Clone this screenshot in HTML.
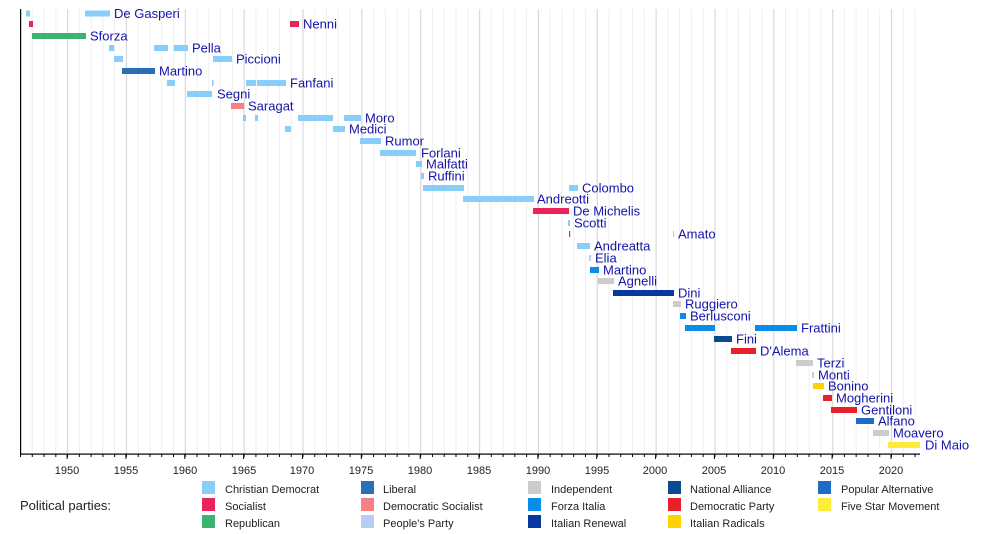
<!DOCTYPE html>
<html><head><meta charset="utf-8"><style>
body{margin:0;background:#fff}
svg{display:block;font-family:"Liberation Sans",sans-serif}
.l{fill:#1414aa;font-size:13px;dominant-baseline:central}
.t{font-size:11px;fill:#222;text-anchor:middle}
.g{font-size:11px;fill:#222}
</style></head><body>
<svg width="1000" height="534" viewBox="0 0 1000 534">
<defs>
<pattern id="mn" x="20" y="0" width="11.77" height="10" patternUnits="userSpaceOnUse"><rect x="0" y="0" width="1" height="10" fill="#eeeeee"/></pattern>
<pattern id="mj" x="-0.5" y="0" width="58.85" height="10" patternUnits="userSpaceOnUse"><rect x="67.6" y="0" width="1" height="10" fill="#d6d6d6"/><rect x="8.75" y="0" width="1" height="10" fill="#d6d6d6"/></pattern>
<pattern id="tk" x="20" y="0" width="11.77" height="10" patternUnits="userSpaceOnUse"><rect x="0" y="0" width="1" height="10" fill="#000"/></pattern>
</defs>
<rect x="20" y="9" width="900" height="445" fill="url(#mn)"/>
<rect x="20" y="9" width="900" height="445" fill="url(#mj)"/>
<rect x="20" y="454" width="901" height="3" fill="url(#tk)"/>
<g fill="#000">
<rect x="66.6" y="454" width="1" height="5"/><rect x="125.4" y="454" width="1" height="5"/><rect x="184.3" y="454" width="1" height="5"/><rect x="243.1" y="454" width="1" height="5"/><rect x="302" y="454" width="1" height="5"/><rect x="360.8" y="454" width="1" height="5"/><rect x="419.7" y="454" width="1" height="5"/><rect x="478.5" y="454" width="1" height="5"/><rect x="537.4" y="454" width="1" height="5"/><rect x="596.2" y="454" width="1" height="5"/><rect x="655.1" y="454" width="1" height="5"/><rect x="713.9" y="454" width="1" height="5"/><rect x="772.8" y="454" width="1" height="5"/><rect x="831.6" y="454" width="1" height="5"/><rect x="890.5" y="454" width="1" height="5"/>
</g>
<rect x="20" y="9" width="1.2" height="446" fill="#000"/>
<rect x="20" y="453.5" width="900" height="1.2" fill="#000"/>
<g class="t">
<text x="67" y="474">1950</text><text x="126" y="474">1955</text><text x="185" y="474">1960</text><text x="244" y="474">1965</text><text x="302" y="474">1970</text><text x="361" y="474">1975</text><text x="420" y="474">1980</text><text x="479" y="474">1985</text><text x="538" y="474">1990</text><text x="597" y="474">1995</text><text x="655" y="474">2000</text><text x="714" y="474">2005</text><text x="773" y="474">2010</text><text x="832" y="474">2015</text><text x="891" y="474">2020</text>
</g>
<g>
<rect x="26" y="10.5" width="4" height="6" fill="#87CEFA"/><rect x="85" y="10.5" width="25" height="6" fill="#87CEFA"/>
<rect x="29" y="21" width="4" height="6" fill="#E8245A"/><rect x="290" y="21" width="9" height="6" fill="#E8245A"/>
<rect x="32" y="33" width="54" height="6" fill="#3CB371"/>
<rect x="109" y="45" width="5" height="6" fill="#87CEFA"/><rect x="154" y="45" width="14" height="6" fill="#87CEFA"/><rect x="174" y="45" width="14" height="6" fill="#87CEFA"/>
<rect x="114" y="56" width="9" height="6" fill="#87CEFA"/><rect x="213" y="56" width="19" height="6" fill="#87CEFA"/>
<rect x="122" y="68" width="33" height="6" fill="#2A6EB5"/>
<rect x="167" y="80" width="8" height="6" fill="#87CEFA"/><rect x="212" y="80" width="1.5" height="6" fill="#87CEFA"/><rect x="246" y="80" width="10" height="6" fill="#87CEFA"/><rect x="257" y="80" width="29" height="6" fill="#87CEFA"/>
<rect x="187" y="91" width="25" height="6" fill="#87CEFA"/>
<rect x="231" y="103" width="13" height="6" fill="#F88080"/>
<rect x="243" y="115" width="3" height="6" fill="#87CEFA"/><rect x="255" y="115" width="3" height="6" fill="#87CEFA"/><rect x="298" y="115" width="35" height="6" fill="#87CEFA"/><rect x="344" y="115" width="17" height="6" fill="#87CEFA"/>
<rect x="285" y="126" width="6" height="6" fill="#87CEFA"/><rect x="333" y="126" width="12" height="6" fill="#87CEFA"/>
<rect x="360" y="138" width="21" height="6" fill="#87CEFA"/>
<rect x="380" y="150" width="36" height="6" fill="#87CEFA"/>
<rect x="416" y="161" width="6" height="6" fill="#87CEFA"/>
<rect x="421" y="173" width="3" height="6" fill="#87CEFA"/>
<rect x="423" y="185" width="41" height="6" fill="#87CEFA"/><rect x="569" y="185" width="9" height="6" fill="#87CEFA"/>
<rect x="463" y="196" width="71" height="6" fill="#87CEFA"/>
<rect x="533" y="208" width="36" height="6" fill="#E8245A"/>
<rect x="568" y="220" width="2" height="6" fill="#87CEFA"/>
<rect x="569" y="231" width="1.2" height="6" fill="#E8245A"/><rect x="673" y="231" width="1.2" height="6" fill="#ccc"/>
<rect x="577" y="243" width="13" height="6" fill="#87CEFA"/>
<rect x="589" y="255" width="2" height="6" fill="#B9CCF5"/>
<rect x="590" y="267" width="9" height="6" fill="#0A8CE8"/>
<rect x="598" y="278" width="16" height="6" fill="#CCCCCC"/>
<rect x="613" y="290" width="61" height="6" fill="#0638A0"/>
<rect x="673" y="301" width="8" height="6" fill="#CCCCCC"/>
<rect x="680" y="313" width="6" height="6" fill="#0A8CE8"/>
<rect x="685" y="325" width="30" height="6" fill="#0A8CE8"/><rect x="755" y="325" width="42" height="6" fill="#0A8CE8"/>
<rect x="714" y="336" width="18" height="6" fill="#0A4A93"/>
<rect x="731" y="348" width="25" height="6" fill="#E8202A"/>
<rect x="796" y="360" width="17" height="6" fill="#CCCCCC"/>
<rect x="812" y="372" width="2" height="6" fill="#CCCCCC"/>
<rect x="813" y="383" width="11" height="6" fill="#FFD300"/>
<rect x="823" y="395" width="9" height="6" fill="#E8202A"/>
<rect x="831" y="407" width="26" height="6" fill="#E8202A"/>
<rect x="856" y="418" width="18" height="6" fill="#1E6CC8"/>
<rect x="873" y="430" width="16" height="6" fill="#CCCCCC"/>
<rect x="888" y="442" width="32" height="6" fill="#FFEB3B"/>
</g>
<g class="l">
<text x="114" y="13.5">De Gasperi</text>
<text x="303" y="24">Nenni</text>
<text x="90" y="36">Sforza</text>
<text x="192" y="48">Pella</text>
<text x="236" y="59">Piccioni</text>
<text x="159" y="71">Martino</text>
<text x="290" y="83">Fanfani</text>
<text x="217" y="94">Segni</text>
<text x="248" y="106">Saragat</text>
<text x="365" y="118">Moro</text>
<text x="349" y="129">Medici</text>
<text x="385" y="141">Rumor</text>
<text x="421" y="153">Forlani</text>
<text x="426" y="164">Malfatti</text>
<text x="428" y="176">Ruffini</text>
<text x="582" y="188">Colombo</text>
<text x="537" y="199">Andreotti</text>
<text x="573" y="211">De Michelis</text>
<text x="574" y="223">Scotti</text>
<text x="678" y="234">Amato</text>
<text x="594" y="246">Andreatta</text>
<text x="595" y="258">Elia</text>
<text x="603" y="270">Martino</text>
<text x="618" y="281">Agnelli</text>
<text x="678" y="293">Dini</text>
<text x="685" y="304">Ruggiero</text>
<text x="690" y="316">Berlusconi</text>
<text x="801" y="328">Frattini</text>
<text x="736" y="339">Fini</text>
<text x="760" y="351">D'Alema</text>
<text x="817" y="363">Terzi</text>
<text x="818" y="375">Monti</text>
<text x="828" y="386">Bonino</text>
<text x="836" y="398">Mogherini</text>
<text x="861" y="410">Gentiloni</text>
<text x="878" y="421">Alfano</text>
<text x="893" y="433">Moavero</text>
<text x="925" y="445">Di Maio</text>
</g>
<text x="20" y="510" style="font-size:13px;fill:#222">Political parties:</text>
<g>
<rect x="202" y="481" width="13" height="13" fill="#87CEFA"/><rect x="202" y="498" width="13" height="13" fill="#E8245A"/><rect x="202" y="515" width="13" height="13" fill="#3CB371"/>
<rect x="361" y="481" width="13" height="13" fill="#2A6EB5"/><rect x="361" y="498" width="13" height="13" fill="#F88080"/><rect x="361" y="515" width="13" height="13" fill="#B9CCF5"/>
<rect x="528" y="481" width="13" height="13" fill="#CCCCCC"/><rect x="528" y="498" width="13" height="13" fill="#0A8CE8"/><rect x="528" y="515" width="13" height="13" fill="#0638A0"/>
<rect x="668" y="481" width="13" height="13" fill="#0A4A93"/><rect x="668" y="498" width="13" height="13" fill="#E8202A"/><rect x="668" y="515" width="13" height="13" fill="#FFD300"/>
<rect x="818" y="481" width="13" height="13" fill="#1E6CC8"/><rect x="818" y="498" width="13" height="13" fill="#FFEB3B"/>
</g>
<g class="g">
<text x="225" y="493">Christian Democrat</text><text x="225" y="510">Socialist</text><text x="225" y="527">Republican</text>
<text x="383" y="493">Liberal</text><text x="383" y="510">Democratic Socialist</text><text x="383" y="527">People's Party</text>
<text x="551" y="493">Independent</text><text x="551" y="510">Forza Italia</text><text x="551" y="527">Italian Renewal</text>
<text x="690" y="493">National Alliance</text><text x="690" y="510">Democratic Party</text><text x="690" y="527">Italian Radicals</text>
<text x="841" y="493">Popular Alternative</text><text x="841" y="510">Five Star Movement</text>
</g>
</svg>
</body></html>
